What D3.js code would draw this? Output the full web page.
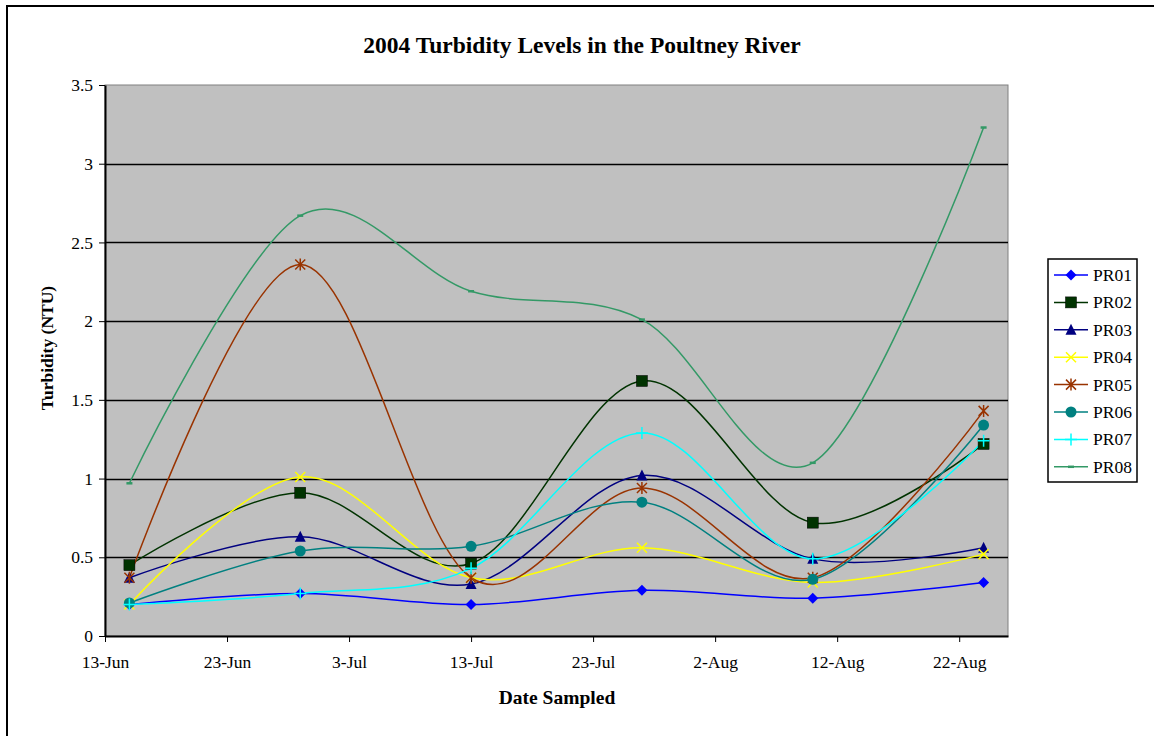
<!DOCTYPE html>
<html>
<head>
<meta charset="utf-8">
<style>
  body { margin: 0; background: #fff; }
  svg { display: block; font-family: "Liberation Serif", "Times New Roman", serif; }
</style>
</head>
<body>
<svg width="1154" height="736"></svg>
<script src="https://d3js.org/d3.v7.min.js"></script>
<script>

// sample dates (every two weeks)
var dates = ["2004-06-15", "2004-06-29", "2004-07-13", "2004-07-27", "2004-08-10", "2004-08-24"];

var sites = ["PR01", "PR02", "PR03", "PR04", "PR05", "PR06", "PR07", "PR08"];

var pr01 = [0.20, 0.27, 0.20, 0.29, 0.24, 0.34];
var pr02 = [0.45, 0.91, 0.46, 1.62, 0.72, 1.22];
var pr03 = [0.37, 0.63, 0.33, 1.02, 0.49, 0.56];
var pr04 = [0.20, 1.01, 0.37, 0.56, 0.34, 0.52];
var pr05 = [0.37, 2.36, 0.37, 0.94, 0.37, 1.43];
var pr06 = [0.21, 0.54, 0.57, 0.85, 0.36, 1.34];
var pr07 = [0.20, 0.27, 0.43, 1.29, 0.49, 1.24];
var pr08 = [0.97, 2.67, 2.19, 2.01, 1.10, 3.23];

var colors = ["#0000FF", "#003300", "#000080", "#FFFF00", "#993300", "#008080", "#00FFFF", "#339966"];
var shapes = ["diamond", "square", "triangle", "x", "star", "circle", "plus", "dash"];

var xTicks = ["2004-06-13", "2004-06-23", "2004-07-03", "2004-07-13", "2004-07-23", "2004-08-02", "2004-08-12", "2004-08-22"];
var yTicks = [0, 0.5, 1, 1.5, 2, 2.5, 3, 3.5];

var parse = d3.timeParse("%Y-%m-%d");
var series = [pr01, pr02, pr03, pr04, pr05, pr06, pr07, pr08].map(function(vals, i) {
  return {
    name: sites[i],
    color: colors[i],
    shape: shapes[i],
    values: vals.map(function(v, j) { return { date: parse(dates[j]), value: v }; })
  };
});

var svg = d3.select("svg");

var plotLeft = 105, plotRight = 1008, plotTop = 85, plotBottom = 636;

var x = d3.scaleTime()
    .domain([parse("2004-06-13"), parse("2004-08-26")])
    .range([plotLeft, plotRight]);

var y = d3.scaleLinear()
    .domain([0, 3.5])
    .range([plotBottom, plotTop]);

// outer chart border
svg.append("rect")
    .attr("x", 7).attr("y", 6)
    .attr("width", 1160).attr("height", 760)
    .attr("fill", "#fff")
    .attr("stroke", "#000")
    .attr("stroke-width", 2);

// plot area
svg.append("rect")
    .attr("x", plotLeft).attr("y", plotTop)
    .attr("width", plotRight - plotLeft).attr("height", plotBottom - plotTop)
    .attr("fill", "#C0C0C0")
    .attr("stroke", "#808080")
    .attr("stroke-width", 1);

// gridlines
svg.append("g")
  .selectAll("line")
  .data(yTicks.slice(1, -1))
  .enter().append("line")
    .attr("x1", plotLeft).attr("x2", plotRight)
    .attr("y1", function(d) { return Math.round(y(d)) + 0.5; })
    .attr("y2", function(d) { return Math.round(y(d)) + 0.5; })
    .attr("stroke", "#000")
    .attr("stroke-width", 1.3);

// y axis
var yAxis = svg.append("g")
    .attr("transform", "translate(" + plotLeft + ",0)")
    .call(d3.axisLeft(y).tickValues(yTicks).tickSize(6).tickSizeOuter(0).tickPadding(6)
      .tickFormat(function(d) { return d; }));
yAxis.select(".domain").attr("stroke", "#000").attr("stroke-width", 2);
yAxis.selectAll("text").attr("font-size", 17.5).attr("font-family", "Liberation Serif").attr("fill", "#000");

// x axis
var xAxis = svg.append("g")
    .attr("transform", "translate(0," + plotBottom + ")")
    .call(d3.axisBottom(x).tickValues(xTicks.map(parse)).tickSize(6).tickSizeOuter(0).tickPadding(14)
      .tickFormat(d3.timeFormat("%-d-%b")));
xAxis.select(".domain").attr("stroke", "#000").attr("stroke-width", 2);
xAxis.selectAll("text").attr("font-size", 17.5).attr("font-family", "Liberation Serif").attr("fill", "#000");

// smoothed lines
var line = d3.line()
    .x(function(d) { return x(d.date); })
    .y(function(d) { return y(d.value); })
    .curve(d3.curveCardinal.tension(0));

svg.append("g")
  .selectAll("path")
  .data(series)
  .enter().append("path")
    .attr("fill", "none")
    .attr("stroke", function(d) { return d.color; })
    .attr("stroke-width", 1.5)
    .attr("d", function(d) { return line(d.values); });

function drawMarker(g, shape, color) {
  if (shape == "diamond") {
    g.append("path").attr("d", "M0,-5.5L5.5,0L0,5.5L-5.5,0Z").attr("fill", color);
  } else if (shape == "square") {
    g.append("rect").attr("x", -5.5).attr("y", -5.5).attr("width", 11).attr("height", 11)
      .attr("fill", color).attr("stroke", "#000").attr("stroke-width", 0.5);
  } else if (shape == "triangle") {
    g.append("path").attr("d", "M0,-6L5.5,5L-5.5,5Z").attr("fill", color);
  } else if (shape == "x") {
    g.append("path").attr("d", "M-5,-5L5,5M-5,5L5,-5").attr("stroke", color).attr("stroke-width", 1.5);
  } else if (shape == "star") {
    g.append("path").attr("d", "M-5,-5L5,5M-5,5L5,-5M0,-6L0,6").attr("stroke", color).attr("stroke-width", 1.5);
  } else if (shape == "circle") {
    g.append("circle").attr("r", 5.5).attr("fill", color);
  } else if (shape == "plus") {
    g.append("path").attr("d", "M-6,0L6,0M0,-6L0,6").attr("stroke", color).attr("stroke-width", 1.5);
  } else if (shape == "dash") {
    g.append("path").attr("d", "M-3,0L3,0").attr("stroke", color).attr("stroke-width", 2.5);
  }
}

// markers
series.forEach(function(s) {
  s.values.forEach(function(d) {
    var g = svg.append("g")
        .attr("transform", "translate(" + x(d.date) + "," + y(d.value) + ")");
    drawMarker(g, s.shape, s.color);
  });
});

// titles
svg.append("text")
    .attr("x", 582).attr("y", 53)
    .attr("text-anchor", "middle")
    .attr("font-size", 23.5)
    .attr("font-weight", "bold")
    .text("2004 Turbidity Levels in the Poultney River");

svg.append("text")
    .attr("x", 557).attr("y", 704)
    .attr("text-anchor", "middle")
    .attr("font-size", 19.5)
    .attr("font-weight", "bold")
    .text("Date Sampled");

svg.append("text")
    .attr("transform", "translate(53,348) rotate(-90)")
    .attr("text-anchor", "middle")
    .attr("font-size", 17.5)
    .attr("font-weight", "bold")
    .text("Turbidity (NTU)");

// legend
var legend = svg.append("g").attr("transform", "translate(1048,259)");

legend.append("rect")
    .attr("width", 89).attr("height", 223)
    .attr("fill", "#fff")
    .attr("stroke", "#000")
    .attr("stroke-width", 1.5);

var item = legend.selectAll(".item")
  .data(series)
  .enter().append("g")
    .attr("class", "item")
    .attr("transform", function(d, i) { return "translate(0," + (16 + i * 27.4) + ")"; });

item.append("line")
    .attr("x1", 6).attr("x2", 40)
    .attr("stroke", function(d) { return d.color; })
    .attr("stroke-width", 1.5);

item.each(function(d) {
  var g = d3.select(this).append("g").attr("transform", "translate(23,0)");
  drawMarker(g, d.shape, d.color);
});

item.append("text")
    .attr("x", 45).attr("y", 6)
    .attr("font-size", 17.5)
    .text(function(d) { return d.name; });

</script>
</body>
</html>
